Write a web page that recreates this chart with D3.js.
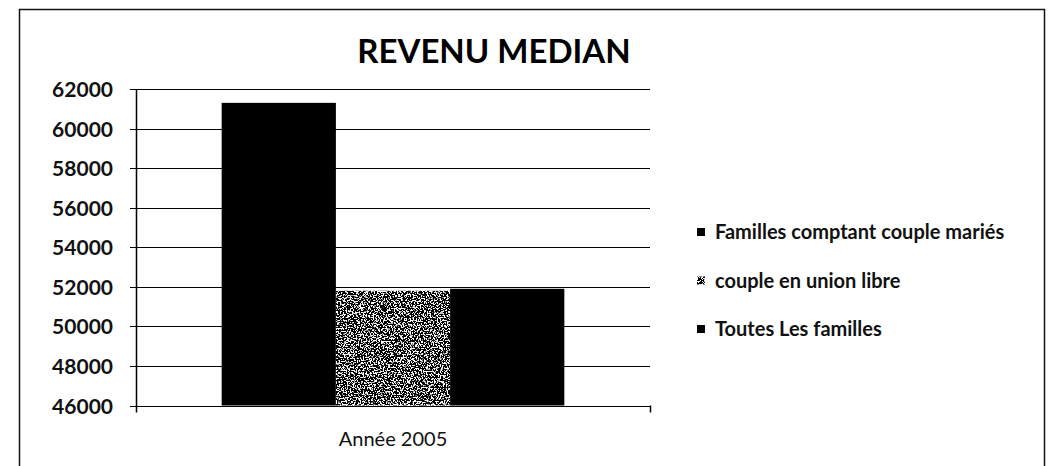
<!DOCTYPE html>
<html><head><meta charset="utf-8">
<script src="https://cdn.jsdelivr.net/npm/d3@7"></script>
<style>html,body{margin:0;padding:0;background:#fff;}svg{display:block;}</style>
</head><body>
<svg id="chart" width="1055" height="466"></svg>
<script>
const categories = ["Année 2005"];
const seriesNames = ["Familles comptant couple mariés", "couple en union libre", "Toutes Les familles"];
const seriesValues = [61300, 51800, 51900];
const yTickValues = [46000, 48000, 50000, 52000, 54000, 56000, 58000, 60000, 62000];
const titleText = "REVENU MEDIAN";

const svg = d3.select("#chart");
const defs = svg.append("defs");
const f = defs.append("filter").attr("id","noise").attr("x",0).attr("y",0).attr("width",1).attr("height",1)
  .attr("filterUnits","objectBoundingBox");
f.append("feTurbulence").attr("type","fractalNoise").attr("baseFrequency",0.7).attr("numOctaves",2).attr("seed",7).attr("result","t");
f.append("feColorMatrix").attr("in","t").attr("type","matrix")
  .attr("values","0 0 0 0 0  0 0 0 0 0  0 0 0 0 0  -14 0 0 0 8.2").attr("result","dots");
f.append("feFlood").attr("flood-color","#fff").attr("result","w");
const m = f.append("feMerge").attr("result","merged");
m.append("feMergeNode").attr("in","w");
m.append("feMergeNode").attr("in","dots");
f.append("feComposite").attr("in","merged").attr("in2","SourceGraphic").attr("operator","in");

// outer frame
svg.append("path").attr("d","M19.5,480 V9.5 H1044.5 V480").attr("fill","none").attr("stroke","#111").attr("stroke-width",1.5);

const plotL = 136, plotR = 650, plotT = 89, plotB = 405.5;
const y = d3.scaleLinear().domain([46000, 62000]).range([plotB, plotT]);
const x0 = d3.scaleBand().domain(categories).range([plotL, plotR]);
const x1 = d3.scaleBand().domain(seriesNames).range([0, x0.bandwidth()]).paddingInner(0).paddingOuter(0.75);

// gridlines
svg.append("g").selectAll("line").data(yTickValues).join("line")
  .attr("x1", plotL - 6).attr("x2", plotR)
  .attr("y1", d => Math.round(y(d)) + 0.5).attr("y2", d => Math.round(y(d)) + 0.5)
  .attr("stroke","#000").attr("stroke-width",1);

// y axis
const yAxis = d3.axisLeft(y).tickValues(yTickValues).tickSize(0).tickPadding(23).tickFormat(d3.format("d"));
const gy = svg.append("g").attr("transform",`translate(${plotL},0)`).call(yAxis);
gy.select(".domain").remove();
gy.selectAll("text").attr("font-family","Lato, sans-serif").attr("font-weight","bold").attr("font-size",21).attr("fill","#111").attr("dy","0.36em");
svg.append("line").attr("x1",plotL+0.5).attr("x2",plotL+0.5).attr("y1",plotT).attr("y2",plotB+7).attr("stroke","#000").attr("stroke-width",1.5);

// x axis
const xAxis = d3.axisBottom(x0).tickSize(0).tickPadding(26);
const gx = svg.append("g").attr("transform",`translate(0,${plotB})`).call(xAxis);
gx.select(".domain").remove();
gx.selectAll("text").attr("font-family","Lato, sans-serif").attr("font-size",20).attr("fill","#111");
svg.append("line").attr("x1",plotR+0.5).attr("x2",plotR+0.5).attr("y1",plotB).attr("y2",plotB+7).attr("stroke","#000").attr("stroke-width",1.5);

// bars
const fills = ["#000", "#fff", "#000"];
const g = svg.append("g").attr("transform",`translate(${x0(categories[0])},0)`);
g.selectAll("rect").data(seriesValues).join("rect")
  .attr("x",(d,i)=>x1(seriesNames[i]))
  .attr("width",x1.bandwidth())
  .attr("y",d=>y(d))
  .attr("height",d=>plotB - y(d))
  .attr("fill",(d,i)=>fills[i])
  .attr("filter",(d,i)=> i===1 ? "url(#noise)" : null);

// title
svg.append("text").attr("x",494).attr("y",63).attr("text-anchor","middle")
  .attr("font-family","Lato, sans-serif").attr("font-weight","bold").attr("font-size",33).attr("fill","#000")
  .text(titleText);

// legend
const leg = svg.append("g");
const legY = d3.scalePoint().domain(seriesNames).range([232, 329]);
leg.selectAll("rect").data(seriesNames).join("rect")
  .attr("x",697).attr("y",d=>legY(d)-4).attr("width",8).attr("height",8)
  .attr("fill",(d,i)=>fills[i]).attr("filter",(d,i)=> i===1 ? "url(#noise)" : null);
leg.selectAll("text").data(seriesNames).join("text")
  .attr("x",715).attr("y",d=>legY(d)).attr("dy","0.36em")
  .attr("font-family","Lato, sans-serif").attr("font-weight","bold").attr("font-size",20).attr("fill","#111")
  .text(d=>d);
</script>
</body></html>
